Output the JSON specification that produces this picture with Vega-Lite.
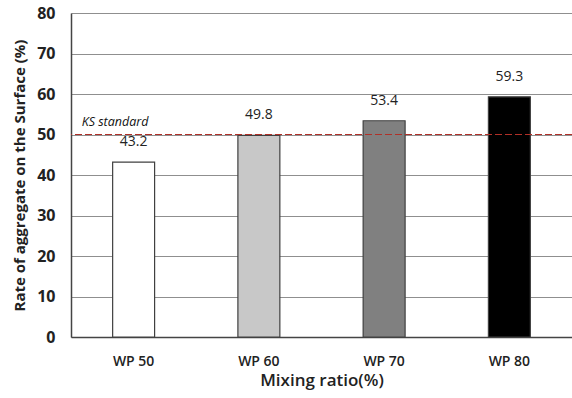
{
  "$schema": "https://vega.github.io/schema/vega-lite/v6.json",
  "width": 501,
  "height": 324,
  "autosize": {"type": "none"},
  "padding": {"left": 71, "top": 13, "right": 0, "bottom": 61},
  "background": "white",
  "config": {
    "view": {"stroke": null},
    "font": "Open Sans"
  },
  "data": {
    "values": [
      {"mix": "WP 50", "rate": 43.2, "label": "43.2"},
      {"mix": "WP 60", "rate": 49.8, "label": "49.8"},
      {"mix": "WP 70", "rate": 53.4, "label": "53.4"},
      {"mix": "WP 80", "rate": 59.3, "label": "59.3"}
    ]
  },
  "encoding": {
    "x": {
      "field": "mix",
      "type": "nominal",
      "sort": null,
      "scale": {"paddingInner": 0.665, "paddingOuter": 0.3325},
      "axis": {
        "title": "Mixing ratio(%)",
        "labelAngle": 0,
        "labelFont": "Open Sans",
        "labelFontSize": 14,
        "labelFontWeight": 600,
        "labelColor": "#222222",
        "labelPadding": 17,
        "ticks": false,
        "domainColor": "#444444",
        "domainWidth": 1.5,
        "titleFont": "Open Sans",
        "titleFontSize": 17,
        "titleFontWeight": 600,
        "titleColor": "#222222",
        "titlePadding": 4
      }
    }
  },
  "layer": [
    {
      "mark": {"type": "bar", "stroke": "#404040", "strokeWidth": 1.2},
      "encoding": {
        "y": {
          "field": "rate",
          "type": "quantitative",
          "scale": {"domain": [0, 80], "nice": false},
          "axis": {
            "title": "Rate of aggregate on the Surface (%)",
            "values": [0, 10, 20, 30, 40, 50, 60, 70, 80],
            "grid": true,
            "gridColor": "#8f8f8f",
            "gridWidth": 1,
            "ticks": false,
            "domainColor": "#444444",
            "domainWidth": 1.5,
            "labelFont": "Open Sans",
            "labelFontSize": 16,
            "labelFontWeight": "bold",
            "labelColor": "#222222",
            "labelPadding": 16,
            "titleFont": "Open Sans",
            "titleFontSize": 15,
            "titleFontWeight": "bold",
            "titleColor": "#222222",
            "titlePadding": 9
          }
        },
        "fill": {
          "field": "mix",
          "type": "nominal",
          "scale": {
            "domain": ["WP 50", "WP 60", "WP 70", "WP 80"],
            "range": ["#ffffff", "#c8c8c8", "#808080", "#000000"]
          },
          "legend": null
        }
      }
    },
    {
      "mark": {"type": "text", "baseline": "middle", "dy": -20, "fontSize": 14, "color": "#222222", "font": "Open Sans"},
      "encoding": {
        "y": {"field": "rate", "type": "quantitative"},
        "text": {"field": "label"}
      }
    },
    {
      "mark": {"type": "rule", "color": "#b03028", "strokeDash": [7, 3], "strokeWidth": 1.2},
      "encoding": {
        "x": {},
        "y": {"datum": 50}
      }
    },
    {
      "data": {"values": [{"mix": "WP 50", "y": 50, "t": "KS standard"}]},
      "mark": {"type": "text", "align": "left", "baseline": "bottom", "dx": -52, "dy": -6, "fontSize": 12.5, "fontStyle": "italic", "color": "#111111", "font": "Open Sans"},
      "encoding": {
        "y": {"field": "y", "type": "quantitative"},
        "text": {"field": "t"}
      }
    }
  ]
}
